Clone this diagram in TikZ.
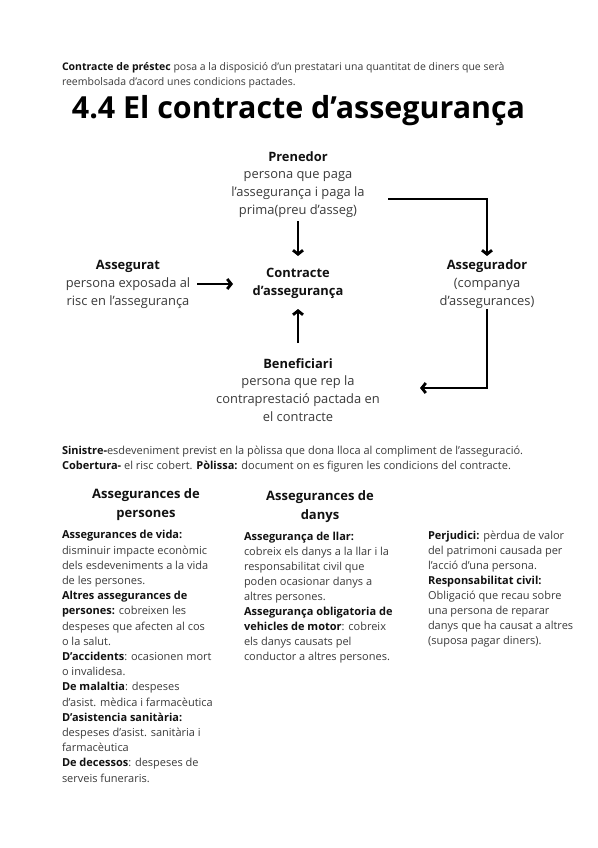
\documentclass[tikz,border=0pt]{standalone}
\usepackage{fontspec}
\setmainfont{Open Sans}
\usetikzlibrary{positioning, arrows.meta}
\definecolor{bodygray}{HTML}{3A3A3A}
\definecolor{headblack}{HTML}{111111}

\begin{document}
\begin{tikzpicture}[
  x=1pt, y=-1pt,
  every node/.style={inner sep=0pt, outer sep=0pt, text=bodygray},
  para/.style={
    anchor=base west, align=left,
    font=\fontsize{11}{15.2}\selectfont
  },
  actor/.style={
    anchor=base, align=center,
    font=\fontsize{12.9}{17.6}\selectfont
  },
  colhead/.style={
    anchor=base, align=center, text=headblack,
    font=\fontsize{13}{18.5}\selectfont\bfseries
  },
  flow/.style={
    line width=2.8pt, draw=black,
    -{Straight Barb[length=4pt, width=10pt]}
  },
]
\useasboundingbox (0,0) rectangle (597,848);

% intro and title (base anchor = last line)
\node[para, font=\fontsize{10.5}{15}\selectfont] (intro) at (62,85.5) {\textbf{\color{headblack}Contracte de préstec} posa a la disposició d’un prestatari una quantitat de diners que serà\\
reembolsada d’acord unes condicions pactades.};
\node[anchor=base, text=black, font=\fontsize{30.4}{36}\selectfont\bfseries] (title) at (298.5,118) {4.4 El contracte d’assegurança};

% actors of the contract
\node[actor] (prenedor) at (298,214) {\textbf{\color{headblack}Prenedor}\\
persona que paga\\
l’assegurança i paga la\\
prima(preu d’asseg)};
\node[actor] (contracte) at (298,295) {\textbf{\color{headblack}Contracte}\\
\textbf{\color{headblack}d’assegurança}};
\node[actor] (assegurat) at (128,305) {\textbf{\color{headblack}Assegurat}\\
persona exposada al\\
risc en l’assegurança};
\node[actor] (assegurador) at (487,305) {\textbf{\color{headblack}Assegurador}\\
(companya\\
d’assegurances)};
\node[actor] (beneficiari) at (298,421) {\textbf{\color{headblack}Beneficiari}\\
persona que rep la\\
contraprestació pactada en\\
el contracte};

% arrows
\coordinate (p-out) at (388,199);
\coordinate (a-out) at (487,309);
\draw[flow] (298,221) -- (298,256);
\draw[flow] (298,343) -- (298,309);
\draw[flow] (197,284) -- (233,284);
\draw[flow] (p-out) -| (487,256);
\draw[flow] (a-out) |- (420,388);

% definitions
\node[para] (defs) at (62,469.5) {\textbf{\color{headblack}Sinistre-}esdeveniment previst en la pòlissa que dona lloca al compliment de l’asseguració.\\
\textbf{\color{headblack}Cobertura-} el risc cobert. \textbf{\color{headblack}Pòlissa:} document on es figuren les condicions del contracte.};

% types of insurance
\node[colhead] (h-persones) at (146,517) {Assegurances de\\ persones};
\node[colhead] (h-danys) at (320,519) {Assegurances de\\ danys};

\node[para] (c-persones) at (62,782) {\textbf{\color{headblack}Assegurances de vida:}\\
disminuir impacte econòmic\\
dels esdeveniments a la vida\\
de les persones.\\
\textbf{\color{headblack}Altres assegurances de}\\
\textbf{\color{headblack}persones:} cobreixen les\\
despeses que afecten al cos\\
o la salut.\\
\textbf{\color{headblack}D’accidents}: ocasionen mort\\
o invalidesa.\\
\textbf{\color{headblack}De malaltia}: despeses\\
d’asist. mèdica i farmacèutica\\
\textbf{\color{headblack}D’asistencia sanitària:}\\
despeses d’asist. sanitària i\\
farmacèutica\\
\textbf{\color{headblack}De decessos}: despeses de\\
serveis funeraris.};

\node[para, font=\fontsize{11}{15}\selectfont] (c-danys) at (244,660) {\textbf{\color{headblack}Assegurança de llar:}\\
cobreix els danys a la llar i la\\
responsabilitat civil que\\
poden ocasionar danys a\\
altres persones.\\
\textbf{\color{headblack}Assegurança obligatoria de}\\
\textbf{\color{headblack}vehicles de motor}: cobreix\\
els danys causats pel\\
conductor a altres persones.};

\node[para, font=\fontsize{11}{15}\selectfont] (c-altres) at (428,644) {\textbf{\color{headblack}Perjudici:} pèrdua de valor\\
del patrimoni causada per\\
l’acció d’una persona.\\
\textbf{\color{headblack}Responsabilitat civil:}\\
Obligació que recau sobre\\
una persona de reparar\\
danys que ha causat a altres\\
(suposa pagar diners).};

\end{tikzpicture}
\end{document}
